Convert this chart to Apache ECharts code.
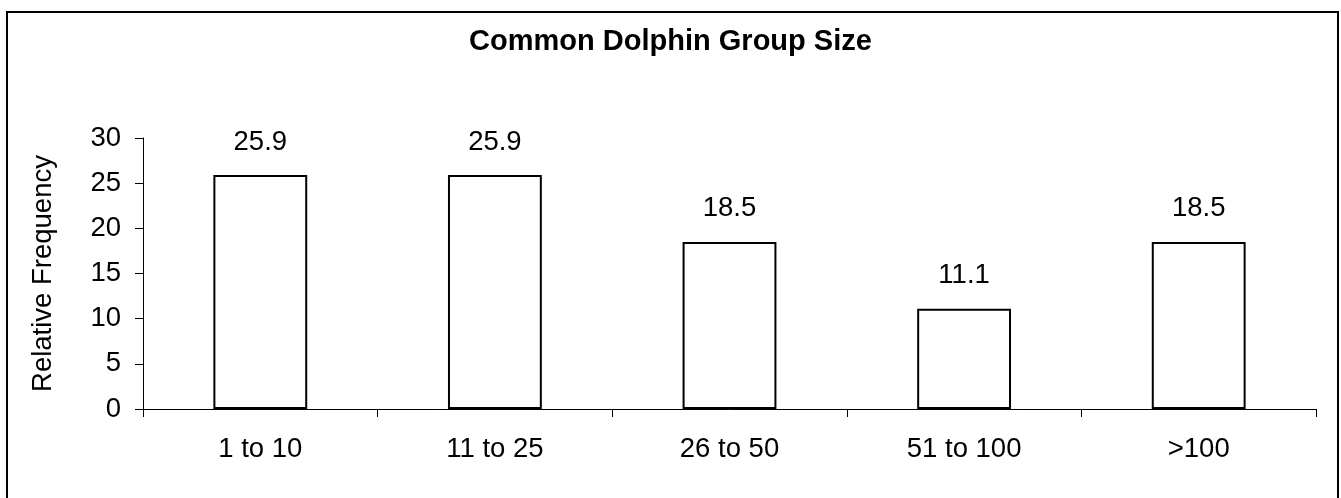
<!DOCTYPE html>
<html>
<head>
<meta charset="utf-8">
<title>Common Dolphin Group Size</title>
<script src="https://cdn.jsdelivr.net/npm/echarts@6/dist/echarts.min.js"></script>
<style>
  html, body { margin: 0; padding: 0; background: #ffffff; }
  #chart { width: 1341px; height: 498px; }
</style>
</head>
<body>
<div id="chart"></div>
<script>
// Group-size classes and their relative frequency (%)
const categories = ['1 to 10', '11 to 25', '26 to 50', '51 to 100', '>100'];
const frequency = [25.9, 25.9, 18.5, 11.1, 18.5];
const yTicks = { min: 0, max: 30, interval: 5 };

const FONT = '"Liberation Sans", Arial, sans-serif';
const TEXT_SIZE = 27.5;

const chart = echarts.init(document.getElementById('chart'), null, { renderer: 'canvas' });

chart.setOption({
  animation: false,
  backgroundColor: '#ffffff',
  title: {
    text: 'Common Dolphin Group Size',
    left: 'center',
    top: 27,
    padding: 0,
    textStyle: { fontFamily: FONT, fontSize: 29, fontWeight: 'bold', color: '#000' }
  },
  graphic: [{
    type: 'rect',
    shape: { x: 7, y: 12, width: 1331, height: 520 },
    style: { fill: 'none', stroke: '#000', lineWidth: 2 },
    silent: true
  }],
  grid: { left: 143, right: 25, top: 138, bottom: 89 },
  xAxis: {
    type: 'category',
    data: categories,
    axisLine: { lineStyle: { color: '#000', width: 1 } },
    axisTick: { show: true, alignWithLabel: false, length: 8, lineStyle: { color: '#000' } },
    axisLabel: { fontFamily: FONT, fontSize: TEXT_SIZE, color: '#000', margin: 26 },
    splitLine: { show: false }
  },
  yAxis: {
    type: 'value',
    min: yTicks.min,
    max: yTicks.max,
    interval: yTicks.interval,
    name: 'Relative Frequency',
    nameLocation: 'middle',
    nameGap: 86,
    nameRotate: 90,
    nameTextStyle: { fontFamily: FONT, fontSize: TEXT_SIZE, color: '#000' },
    axisLine: { show: true, lineStyle: { color: '#000', width: 1 } },
    axisTick: { show: true, length: 8, lineStyle: { color: '#000' } },
    axisLabel: { fontFamily: FONT, fontSize: TEXT_SIZE, color: '#000', margin: 22 },
    splitLine: { show: false }
  },
  series: [{
    type: 'bar',
    data: frequency,
    barWidth: '40%',
    itemStyle: { color: '#ffffff', borderColor: '#000', borderWidth: 2 },
    label: {
      show: true,
      position: 'top',
      distance: 19,
      fontFamily: FONT,
      fontSize: TEXT_SIZE,
      color: '#000',
      formatter: p => p.value.toFixed(1)
    }
  }]
});
</script>
</body>
</html>
